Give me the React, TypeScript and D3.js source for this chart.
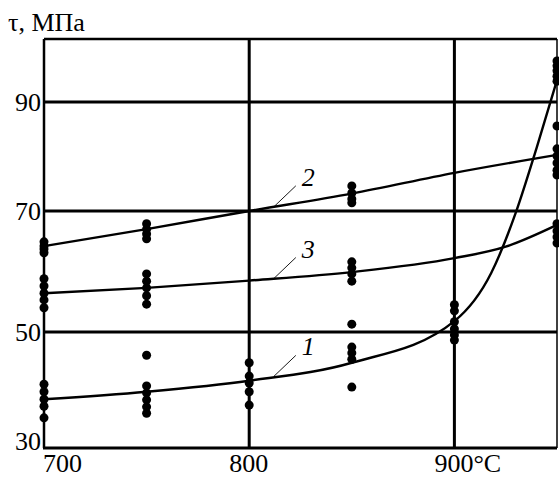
import React, { useEffect, useRef } from "react";
import * as d3 from "d3";

// temperatures (°C) where measurements were made, and the measured stress values
const dots700 = [64.9, 64.2, 63.7, 63.1, 58.8, 57.6, 56.4, 55.3, 54.0, 41.0, 39.7, 38.4, 37.2, 35.2];
const dots750 = [67.9, 67.0, 66.2, 65.4, 59.6, 58.4, 57.3, 56.0, 54.6, 46.0, 40.7, 39.5, 38.3, 37.1, 36.0];
const dots800 = [44.7, 42.4, 41.2, 39.7, 37.4];
const dots850 = [74.6, 73.3, 72.2, 71.5, 61.6, 60.6, 59.6, 58.4, 51.3, 47.4, 46.4, 45.3, 40.5];
const dots900 = [54.5, 53.5, 51.7, 50.5, 49.5, 48.6];
const dots950 = [97.5, 96.6, 95.7, 94.7, 93.8, 85.6, 81.4, 80.1, 78.8, 77.5, 76.6, 67.9, 66.7, 65.7, 64.7];

const curve1T = [700, 750, 800, 850, 900, 918, 930, 940, 950];
const curve1V = [38.4, 39.7, 41.6, 44.7, 51.8, 59.8, 69.8, 81.5, 94];
const curve2T = [700, 750, 800, 850, 900, 950];
const curve2V = [64.2, 67.0, 70.0, 73.2, 77.0, 80.3];
const curve3T = [700, 750, 800, 850, 900, 925, 950];
const curve3V = [56.4, 57.3, 58.5, 59.9, 62.2, 64.1, 67.7];

const curveNames = ["1", "2", "3"];
const labelT = 812;

const yTicks = [30, 50, 70, 90];
const xTicks = [700, 800, 900];
const xTickLabels = ["700", "800", "900°C"];
const gridY = [50, 70, 90];
const gridX = [800, 900];

const App = () => {
  const svgRef = useRef<SVGSVGElement>(null);

  useEffect(() => {
    const w = 559;
    const h = 478;
    const svg = d3.select(svgRef.current).attr("width", w).attr("height", h);
    svg.selectAll("*").remove();

    const x = d3.scaleLinear().domain([700, 950]).range([44, 557]);
    // the printed figure has slightly uneven grid spacing
    const y = d3.scaleLinear().domain([30, 50, 70, 90, 101.5]).range([448, 332, 211, 102, 39]);

    const font =
      '"Liberation Serif", "Times New Roman", Times, Tinos, "Noto Serif", "DejaVu Serif", FreeSerif, "Nimbus Roman", serif';
    const [x0, x1] = x.range();
    const yTop = y(101.5);
    const yBot = y(30);

    // grid
    svg.selectAll(".gy").data(gridY).join("line")
      .attr("x1", x0).attr("x2", x1)
      .attr("y1", (d) => y(d)).attr("y2", (d) => y(d))
      .attr("stroke", "#000").attr("stroke-width", 3);
    svg.selectAll(".gx").data(gridX).join("line")
      .attr("x1", (d) => x(d)).attr("x2", (d) => x(d))
      .attr("y1", yTop).attr("y2", yBot)
      .attr("stroke", "#000").attr("stroke-width", 3);

    // frame
    svg.append("line").attr("x1", x0).attr("x2", x1).attr("y1", yTop).attr("y2", yTop)
      .attr("stroke", "#000").attr("stroke-width", 2.5);
    svg.append("line").attr("x1", x0 - 1).attr("x2", x1).attr("y1", yBot).attr("y2", yBot)
      .attr("stroke", "#000").attr("stroke-width", 3);
    svg.append("line").attr("x1", x0).attr("x2", x0).attr("y1", yTop).attr("y2", yBot)
      .attr("stroke", "#000").attr("stroke-width", 2.5);
    svg.append("line").attr("x1", x1).attr("x2", x1).attr("y1", yTop).attr("y2", yBot)
      .attr("stroke", "#000").attr("stroke-width", 1.5);

    // points
    const columns: [number, number[]][] = [
      [700, dots700], [750, dots750], [800, dots800],
      [850, dots850], [900, dots900], [950, dots950],
    ];
    const pts = columns.flatMap(([t, vs]) => vs.map((v) => ({ t, v })));
    svg.selectAll(".dot").data(pts).join("circle")
      .attr("cx", (d) => x(d.t)).attr("cy", (d) => y(d.v))
      .attr("r", 4.5).attr("fill", "#000");

    // curves
    const curves = [
      curve1T.map((t, i) => ({ t, v: curve1V[i] })),
      curve2T.map((t, i) => ({ t, v: curve2V[i] })),
      curve3T.map((t, i) => ({ t, v: curve3V[i] })),
    ];
    const line = d3.line<{ t: number; v: number }>()
      .x((d) => x(d.t)).y((d) => y(d.v)).curve(d3.curveMonotoneX);
    svg.selectAll(".curve").data(curves).join("path")
      .attr("d", (d) => line(d))
      .attr("fill", "none").attr("stroke", "#000").attr("stroke-width", 2.4);

    // curve labels with leader lines
    const labelPos = curves.map((c, i) => {
      const f = d3.scaleLinear().domain(c.map((d) => d.t)).range(c.map((d) => d.v));
      return { name: curveNames[i], px: x(labelT), py: y(f(labelT)) };
    });
    svg.selectAll(".leader").data(labelPos).join("line")
      .attr("x1", (d) => d.px).attr("y1", (d) => d.py)
      .attr("x2", (d) => d.px + 22).attr("y2", (d) => d.py - 21)
      .attr("stroke", "#000").attr("stroke-width", 0.9);
    svg.selectAll(".lbl").data(labelPos).join("text")
      .attr("x", (d) => d.px + 28).attr("y", (d) => d.py - 21)
      .style("font-family", font).style("font-style", "italic").style("font-size", "26px")
      .text((d) => d.name);

    // y tick labels
    svg.selectAll(".yt").data(yTicks).join("text")
      .attr("x", x0 - 3)
      .attr("y", (d) => (d === 30 ? yBot + 2 : y(d) + 9))
      .attr("text-anchor", "end")
      .style("font-family", font).style("font-size", "26px")
      .text((d) => d);

    // x tick labels
    svg.selectAll(".xt").data(xTicks).join("text")
      .attr("x", (d) => (d === 700 ? x0 - 1 : x(d) - 20))
      .attr("y", 472)
      .style("font-family", font).style("font-size", "26px")
      .text((d, i) => xTickLabels[i]);

    // axis title
    svg.append("text").attr("x", 8).attr("y", 31)
      .style("font-family", font).style("font-size", "26px")
      .text("τ, МПа");
  }, []);

  return (
    <div>
      <svg ref={svgRef} style={{ position: "absolute", left: 0, top: 0, background: "#fff" }}></svg>
    </div>
  );
};

export default App;
